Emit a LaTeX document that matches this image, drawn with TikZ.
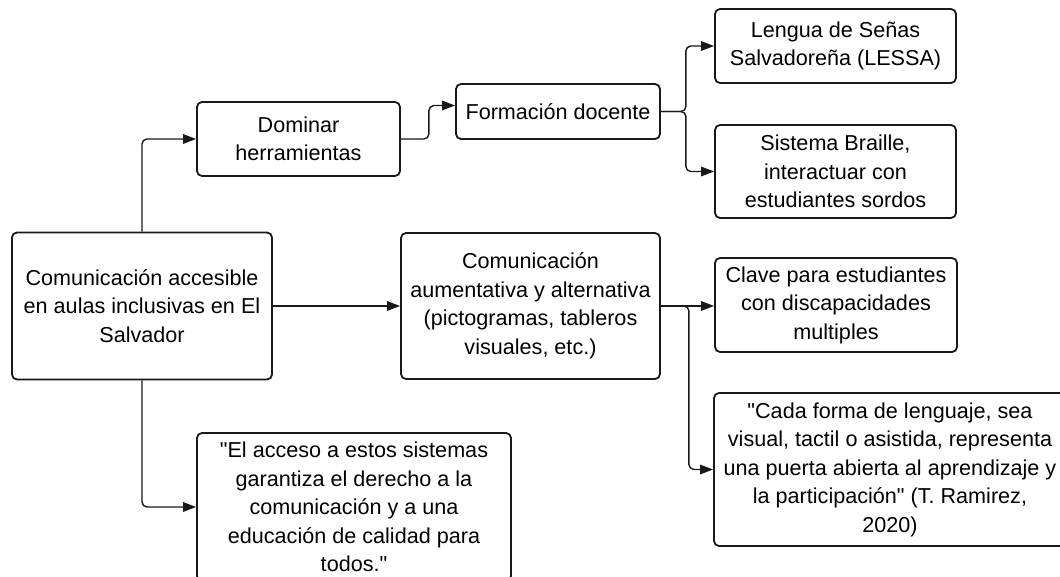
\documentclass[tikz,border=0pt]{standalone}
\usepackage{fontspec}
\setmainfont{Liberation Sans}
\usetikzlibrary{arrows.meta}
\begin{document}
\begin{tikzpicture}[x=1pt,y=-1pt,
  box/.style={draw=black!90, line width=1.8pt, rounded corners=5pt, align=center,
    font=\fontsize{21.6}{28.5}\selectfont, inner sep=0pt, fill=white},
  arr/.style={draw=black!90, line width=1.4pt, rounded corners=5pt,
    -{Triangle[length=13pt,width=9.5pt]}}]
\clip (0,0) rectangle (1060,577);
\fill[white] (0,0) rectangle (1060,577);
\node[box, minimum width=260pt, minimum height=147pt] (main) at (142,306)
  {Comunicación accesible\\en aulas inclusivas en El\\Salvador};
\node[box, minimum width=203pt, minimum height=74pt] (dom) at (298.5,139)
  {Dominar\\herramientas};
\node[box, minimum width=204pt, minimum height=55pt] (form) at (558,111.5)
  {Formación docente};
\node[box, minimum width=241pt, minimum height=74pt] (len) at (835.5,46)
  {Lengua de Señas\\Salvadoreña (LESSA)};
\node[box, minimum width=241pt, minimum height=93pt] (sis) at (835.5,171.5)
  {Sistema Braille,\\interactuar con\\estudiantes sordos};
\node[box, minimum width=259pt, minimum height=146pt] (caa) at (530.5,306)
  {Comunicación\\aumentativa y alternativa\\(pictogramas, tableros\\visuales, etc.)};
\node[box, minimum width=242pt, minimum height=94pt] (cla) at (836,305)
  {Clave para estudiantes\\con discapacidades\\multiples};
\node[box, minimum width=352pt, minimum height=153pt] (quo) at (890,469.5)
  {\textquotedbl Cada forma de lenguaje, sea\\visual, tactil o asistida, representa\\una puerta abierta al aprendizaje y\\la participación\textquotedbl{} (T. Ramirez,\\2020)};
\node[box, minimum width=314pt, minimum height=148pt] (bot) at (354,507)
  {\textquotedbl El acceso a estos sistemas\\garantiza el derecho a la\\comunicación y a una\\educación de calidad para\\todos.\textquotedbl};
\draw[arr] (main.north) |- (dom.west);
\draw[arr] (main.south) |- (bot.west);
\draw[arr] (main.east) -- (caa.west);
\draw[arr] (dom.east) -- ++(28,0) |- ([yshift=6pt]form.west);
\draw[arr] (form.east) -- ++(25,0) |- (len.west);
\draw[arr] (form.east) -- ++(25,0) |- (sis.west);
\draw[arr] (caa.east) -- (cla.west |- caa.east);
\draw[arr] (caa.east) -- ++(28,0) |- (quo.west);
\end{tikzpicture}
\end{document}
